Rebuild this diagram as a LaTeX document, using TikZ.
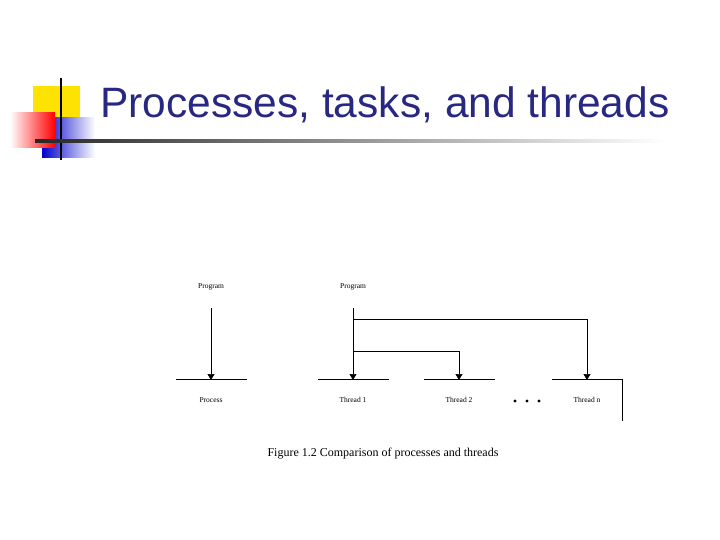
\documentclass[tikz,border=0pt]{standalone}
\usepackage{fontspec}
\newfontfamily\titlefont{Liberation Sans}
\setmainfont{Liberation Serif}
\usetikzlibrary{arrows.meta}
\definecolor{navy}{RGB}{40,40,130}
\tikzset{
    lbl/.style={font=\fontsize{7.5}{8}\selectfont},
    bar/.style={line width=0.6pt},
    flow/.style={line width=0.6pt,-{Triangle[length=6pt,width=7pt]}}
}
\begin{document}
\begin{tikzpicture}[x=1pt,y=-1pt]
    \useasboundingbox (0,0) rectangle (720,540);
    % title decoration
    \fill[yellow!85!orange] (33,86) rectangle (80,122);
    \shade[left color=blue!80!black,right color=white] (42,118) rectangle (95,158);
    \shade[left color=white,right color=red] (10,113) rectangle (55,148);
    \draw[line width=1.2pt] (61,78) -- (61,160);
    \shade[left color=black!85,right color=white] (35,140) rectangle (665,142.5);
    \node[anchor=base west,text=navy,inner sep=0] (title) at (100,118)
        {\titlefont\fontsize{42.5}{46}\selectfont Processes, tasks, and threads};
    % left: process
    \node[lbl] (prog1) at (211,287) {Program};
    \coordinate (p1) at (211,380);
    \draw[bar] (176,379) -- (247,379);
    \node[lbl] (proc) at (211,400) {Process};
    \draw[flow] (211,308) -- (p1);
    % right: threads
    \node[lbl] (prog2) at (353,287) {Program};
    \draw[bar] (318,379) -- (389,379);
    \draw[bar] (424,379) -- (495,379);
    \draw[bar] (552,379) -- (622,379) -- (622,421);
    \node[lbl] (t1) at (353,400) {Thread 1};
    \node[lbl] (t2) at (459,400) {Thread 2};
    \node[lbl] (tn) at (587,400) {Thread n};
    \draw[flow] (353,308) -- (353,380);
    \draw[flow] (353,319) -| (587,380);
    \draw[flow] (353,351) -| (459,380);
    \foreach \d in {515,527,539}
        \fill (\d,401) circle (1.6);
    \node (cap) at (383,454) {\fontsize{12}{14}\selectfont Figure 1.2 Comparison of processes and threads};
\end{tikzpicture}
\end{document}
